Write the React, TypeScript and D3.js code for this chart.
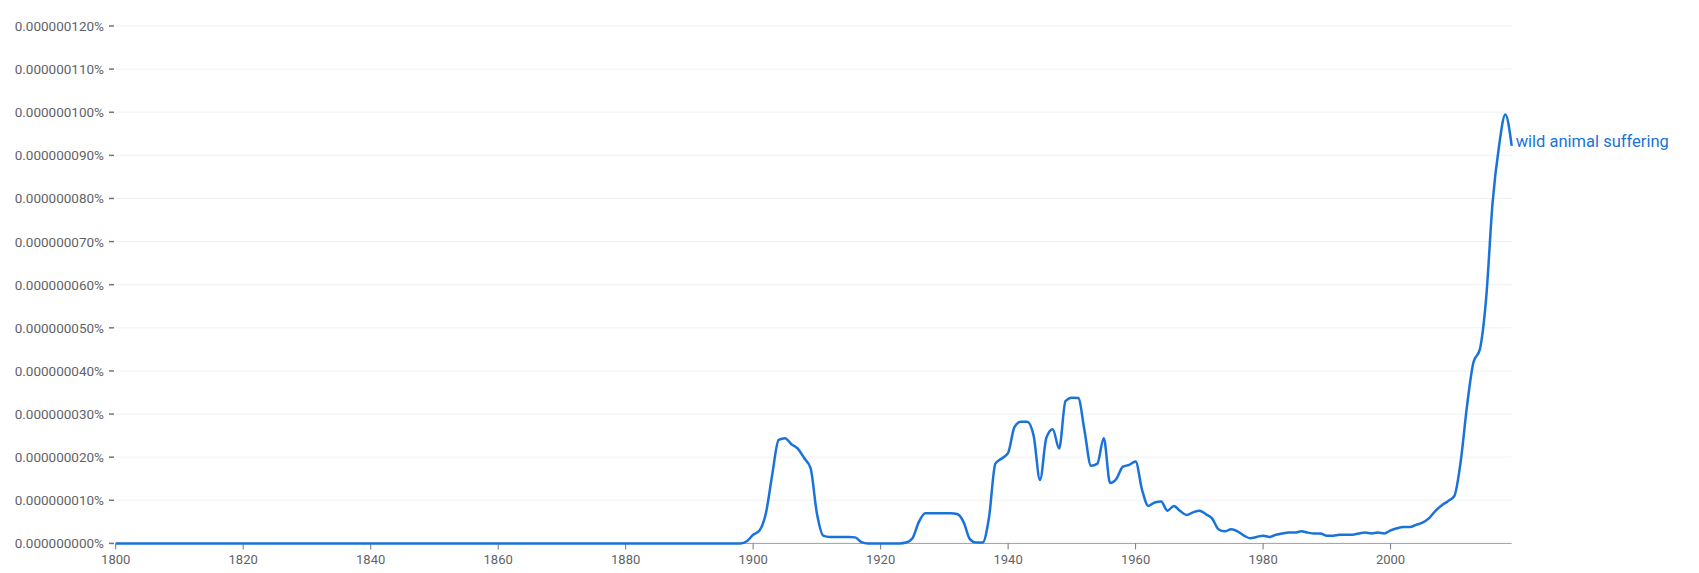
import React from "react";
import * as d3 from "d3";

const startYear = 1800;
const endYear = 2019;
const seriesName = "wild animal suffering";
// values in units of 0.00000001 %
const values: number[] = [
  // 1800-1849
  0, 0, 0, 0, 0, 0, 0, 0, 0, 0, 0, 0, 0, 0, 0, 0, 0, 0, 0, 0, 0, 0, 0, 0, 0,
  0, 0, 0, 0, 0, 0, 0, 0, 0, 0, 0, 0, 0, 0, 0, 0, 0, 0, 0, 0, 0, 0, 0, 0, 0,
  // 1850-1897
  0, 0, 0, 0, 0, 0, 0, 0, 0, 0, 0, 0, 0, 0, 0, 0, 0, 0, 0, 0, 0, 0, 0, 0, 0,
  0, 0, 0, 0, 0, 0, 0, 0, 0, 0, 0, 0, 0, 0, 0, 0, 0, 0, 0, 0, 0, 0, 0,
  // 1898-1909
  0, 0.05, 0.2, 0.3, 0.7, 1.6, 2.4, 2.44, 2.3, 2.2, 1.98, 1.75,
  // 1910-1919
  0.7, 0.18, 0.15, 0.15, 0.15, 0.15, 0.14, 0.03, 0, 0,
  // 1920-1929
  0, 0, 0, 0, 0.02, 0.12, 0.5, 0.7, 0.7, 0.7,
  // 1930-1939
  0.7, 0.7, 0.68, 0.5, 0.1, 0.02, 0.02, 0.6, 1.85, 1.97,
  // 1940-1949
  2.1, 2.7, 2.82, 2.82, 2.5, 1.47, 2.45, 2.65, 2.2, 3.3,
  // 1950-1959
  3.38, 3.37, 2.6, 1.8, 1.85, 2.44, 1.4, 1.5, 1.78, 1.82,
  // 1960-1969
  1.9, 1.25, 0.87, 0.95, 0.97, 0.76, 0.87, 0.75, 0.66, 0.72,
  // 1970-1979
  0.76, 0.68, 0.58, 0.33, 0.28, 0.33, 0.28, 0.18, 0.12, 0.15,
  // 1980-1989
  0.18, 0.15, 0.2, 0.23, 0.25, 0.25, 0.28, 0.25, 0.23, 0.23,
  // 1990-1999
  0.18, 0.18, 0.2, 0.2, 0.2, 0.23, 0.25, 0.23, 0.25, 0.23,
  // 2000-2009
  0.3, 0.35, 0.38, 0.38, 0.43, 0.48, 0.58, 0.75, 0.88, 0.98,
  // 2010-2019
  1.1, 1.9, 3.2, 4.2, 4.5, 5.7, 7.9, 9.2, 9.95, 9.22,
];
const years: number[] = d3.range(startYear, endYear + 1);
const yTicks: number[] = [0, 1, 2, 3, 4, 5, 6, 7, 8, 9, 10, 11, 12];
const xTicks: number[] = [1800, 1820, 1840, 1860, 1880, 1900, 1920, 1940, 1960, 1980, 2000];

const W = 1699;
const H = 573;
const lineColor = "#1a73d9";
const textColor = "#5f6368";
const font = "Roboto, 'Noto Sans', sans-serif";

export default function App() {
  const x = d3.scaleLinear().domain([startYear, endYear]).range([115.7, 1511.7]);
  const y = d3.scaleLinear().domain([0, 12]).range([543.4, 26]);
  const data = years.map((yr, i) => ({ yr, v: values[i] }));
  const line = d3
    .line<{ yr: number; v: number }>()
    .x((d) => x(d.yr))
    .y((d) => y(d.v))
    .curve(d3.curveMonotoneX);
  const last = data[data.length - 1];
  const fmt = (t: number) => (t * 1e-8).toFixed(9) + "%";
  const [x0, x1] = x.range();

  return (
    <svg
      width={W}
      height={H}
      style={{ position: "absolute", left: 0, top: 0, display: "block", background: "#fff" }}
      fontFamily={font}
    >
      {yTicks.map((t) => (
        <g key={t}>
          {t > 0 && (
            <line x1={x0} x2={x1} y1={y(t)} y2={y(t)} stroke="#f1f1f1" strokeWidth={1} />
          )}
          <line x1={109} x2={114} y1={y(t)} y2={y(t)} stroke="#757575" strokeWidth={1.5} />
          <text
            x={104}
            y={y(t)}
            textAnchor="end"
            dominantBaseline="central"
            fontSize={13.5}
            fill={textColor}
          >
            {fmt(t)}
          </text>
        </g>
      ))}
      <line x1={x0} x2={x1} y1={y(0)} y2={y(0)} stroke="#9e9e9e" strokeWidth={1} />
      {xTicks.map((t) => (
        <g key={t}>
          <line x1={x(t)} x2={x(t)} y1={y(0)} y2={y(0) + 6} stroke="#757575" strokeWidth={1} />
          <text x={x(t)} y={563.5} textAnchor="middle" fontSize={13} fill={textColor}>
            {t}
          </text>
        </g>
      ))}
      <path d={line(data) || ""} fill="none" stroke={lineColor} strokeWidth={2.5} strokeLinejoin="round" />
      <text
        x={x(last.yr) + 4}
        y={y(last.v) - 4}
        dominantBaseline="central"
        fontSize={16.5}
        fill={lineColor}
      >
        {seriesName}
      </text>
    </svg>
  );
}
